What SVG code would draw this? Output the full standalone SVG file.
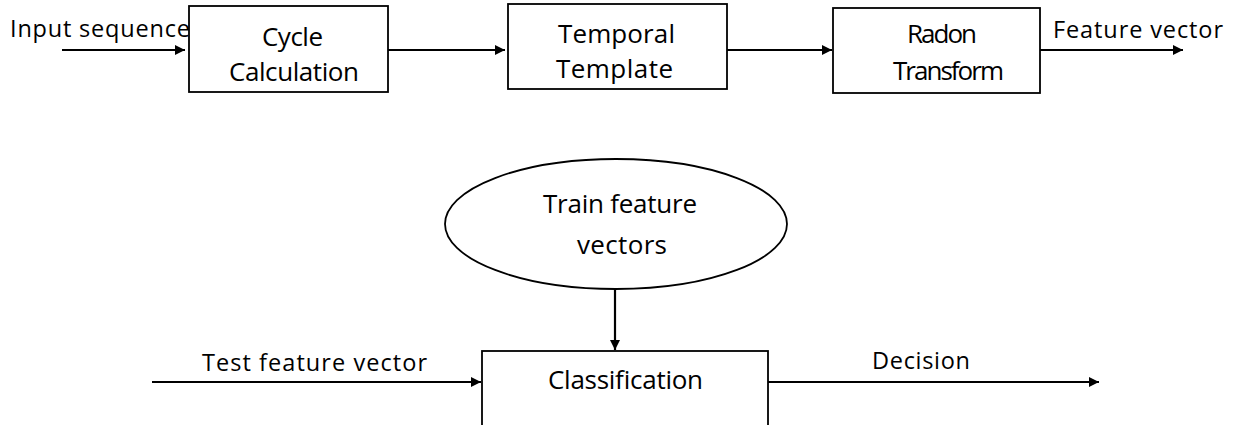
<svg xmlns="http://www.w3.org/2000/svg" width="1238" height="425" viewBox="0 0 1238 425">
<style>
.box{fill:#fff;stroke:#000;stroke-width:1.8}
.ln{fill:none;stroke:#000;stroke-width:2.2}
.t{font-family:"Open Sans","Noto Sans",sans-serif;fill:#000}
.lb{font-size:23.5px}
.bt{font-size:26px}
</style>
<defs>
<marker id="ah" viewBox="0 0 10 10" refX="10" refY="5" markerWidth="11" markerHeight="10" markerUnits="userSpaceOnUse" orient="auto">
<path d="M0,0 L10,5 L0,10 Z" fill="#000"/>
</marker>
</defs>
<rect width="1238" height="425" fill="#fff"/>
<g id="connectors">
<line class="ln" x1="62" y1="50" x2="185" y2="50" marker-end="url(#ah)"/>
<line class="ln" x1="388" y1="50" x2="505" y2="50" marker-end="url(#ah)"/>
<line class="ln" x1="727" y1="50" x2="832" y2="50" marker-end="url(#ah)"/>
<line class="ln" x1="1040" y1="50" x2="1183" y2="50" marker-end="url(#ah)"/>
<line class="ln" x1="615" y1="289" x2="615" y2="350" marker-end="url(#ah)"/>
<line class="ln" x1="152" y1="382" x2="481" y2="382" marker-end="url(#ah)"/>
<line class="ln" x1="768" y1="382" x2="1099" y2="382" marker-end="url(#ah)"/>
</g>
<g id="input-label">
<text class="t lb" x="10" y="37" textLength="180">Input sequence</text>
</g>
<g id="cycle">
<rect class="box" x="189" y="6" width="199" height="86"/>
<text class="t bt" x="262" y="46" textLength="61">Cycle</text>
<text class="t bt" x="229" y="81" textLength="130">Calculation</text>
</g>
<g id="temporal">
<rect class="box" x="508" y="4" width="219" height="85"/>
<text class="t bt" x="558" y="43" textLength="117">Temporal</text>
<text class="t bt" x="556" y="78" textLength="117">Template</text>
</g>
<g id="radon">
<rect class="box" x="833" y="8" width="207" height="85"/>
<text class="t bt" x="907" y="43" textLength="70">Radon</text>
<text class="t bt" x="893" y="80" textLength="111">Transform</text>
</g>
<g id="feature-label">
<text class="t lb" x="1053" y="38" textLength="170">Feature vector</text>
</g>
<g id="train">
<ellipse class="box" cx="616" cy="224" rx="171" ry="65"/>
<text class="t bt" x="543" y="213" textLength="154">Train feature</text>
<text class="t bt" x="577" y="254" textLength="90">vectors</text>
</g>
<g id="test-label">
<text class="t lb" x="202" y="371" textLength="225">Test feature vector</text>
</g>
<g id="classification">
<rect class="box" x="482" y="351" width="286" height="80"/>
<text class="t bt" x="548" y="389" textLength="155">Classification</text>
</g>
<g id="decision-label">
<text class="t lb" x="872" y="369" textLength="98">Decision</text>
</g>
</svg>
